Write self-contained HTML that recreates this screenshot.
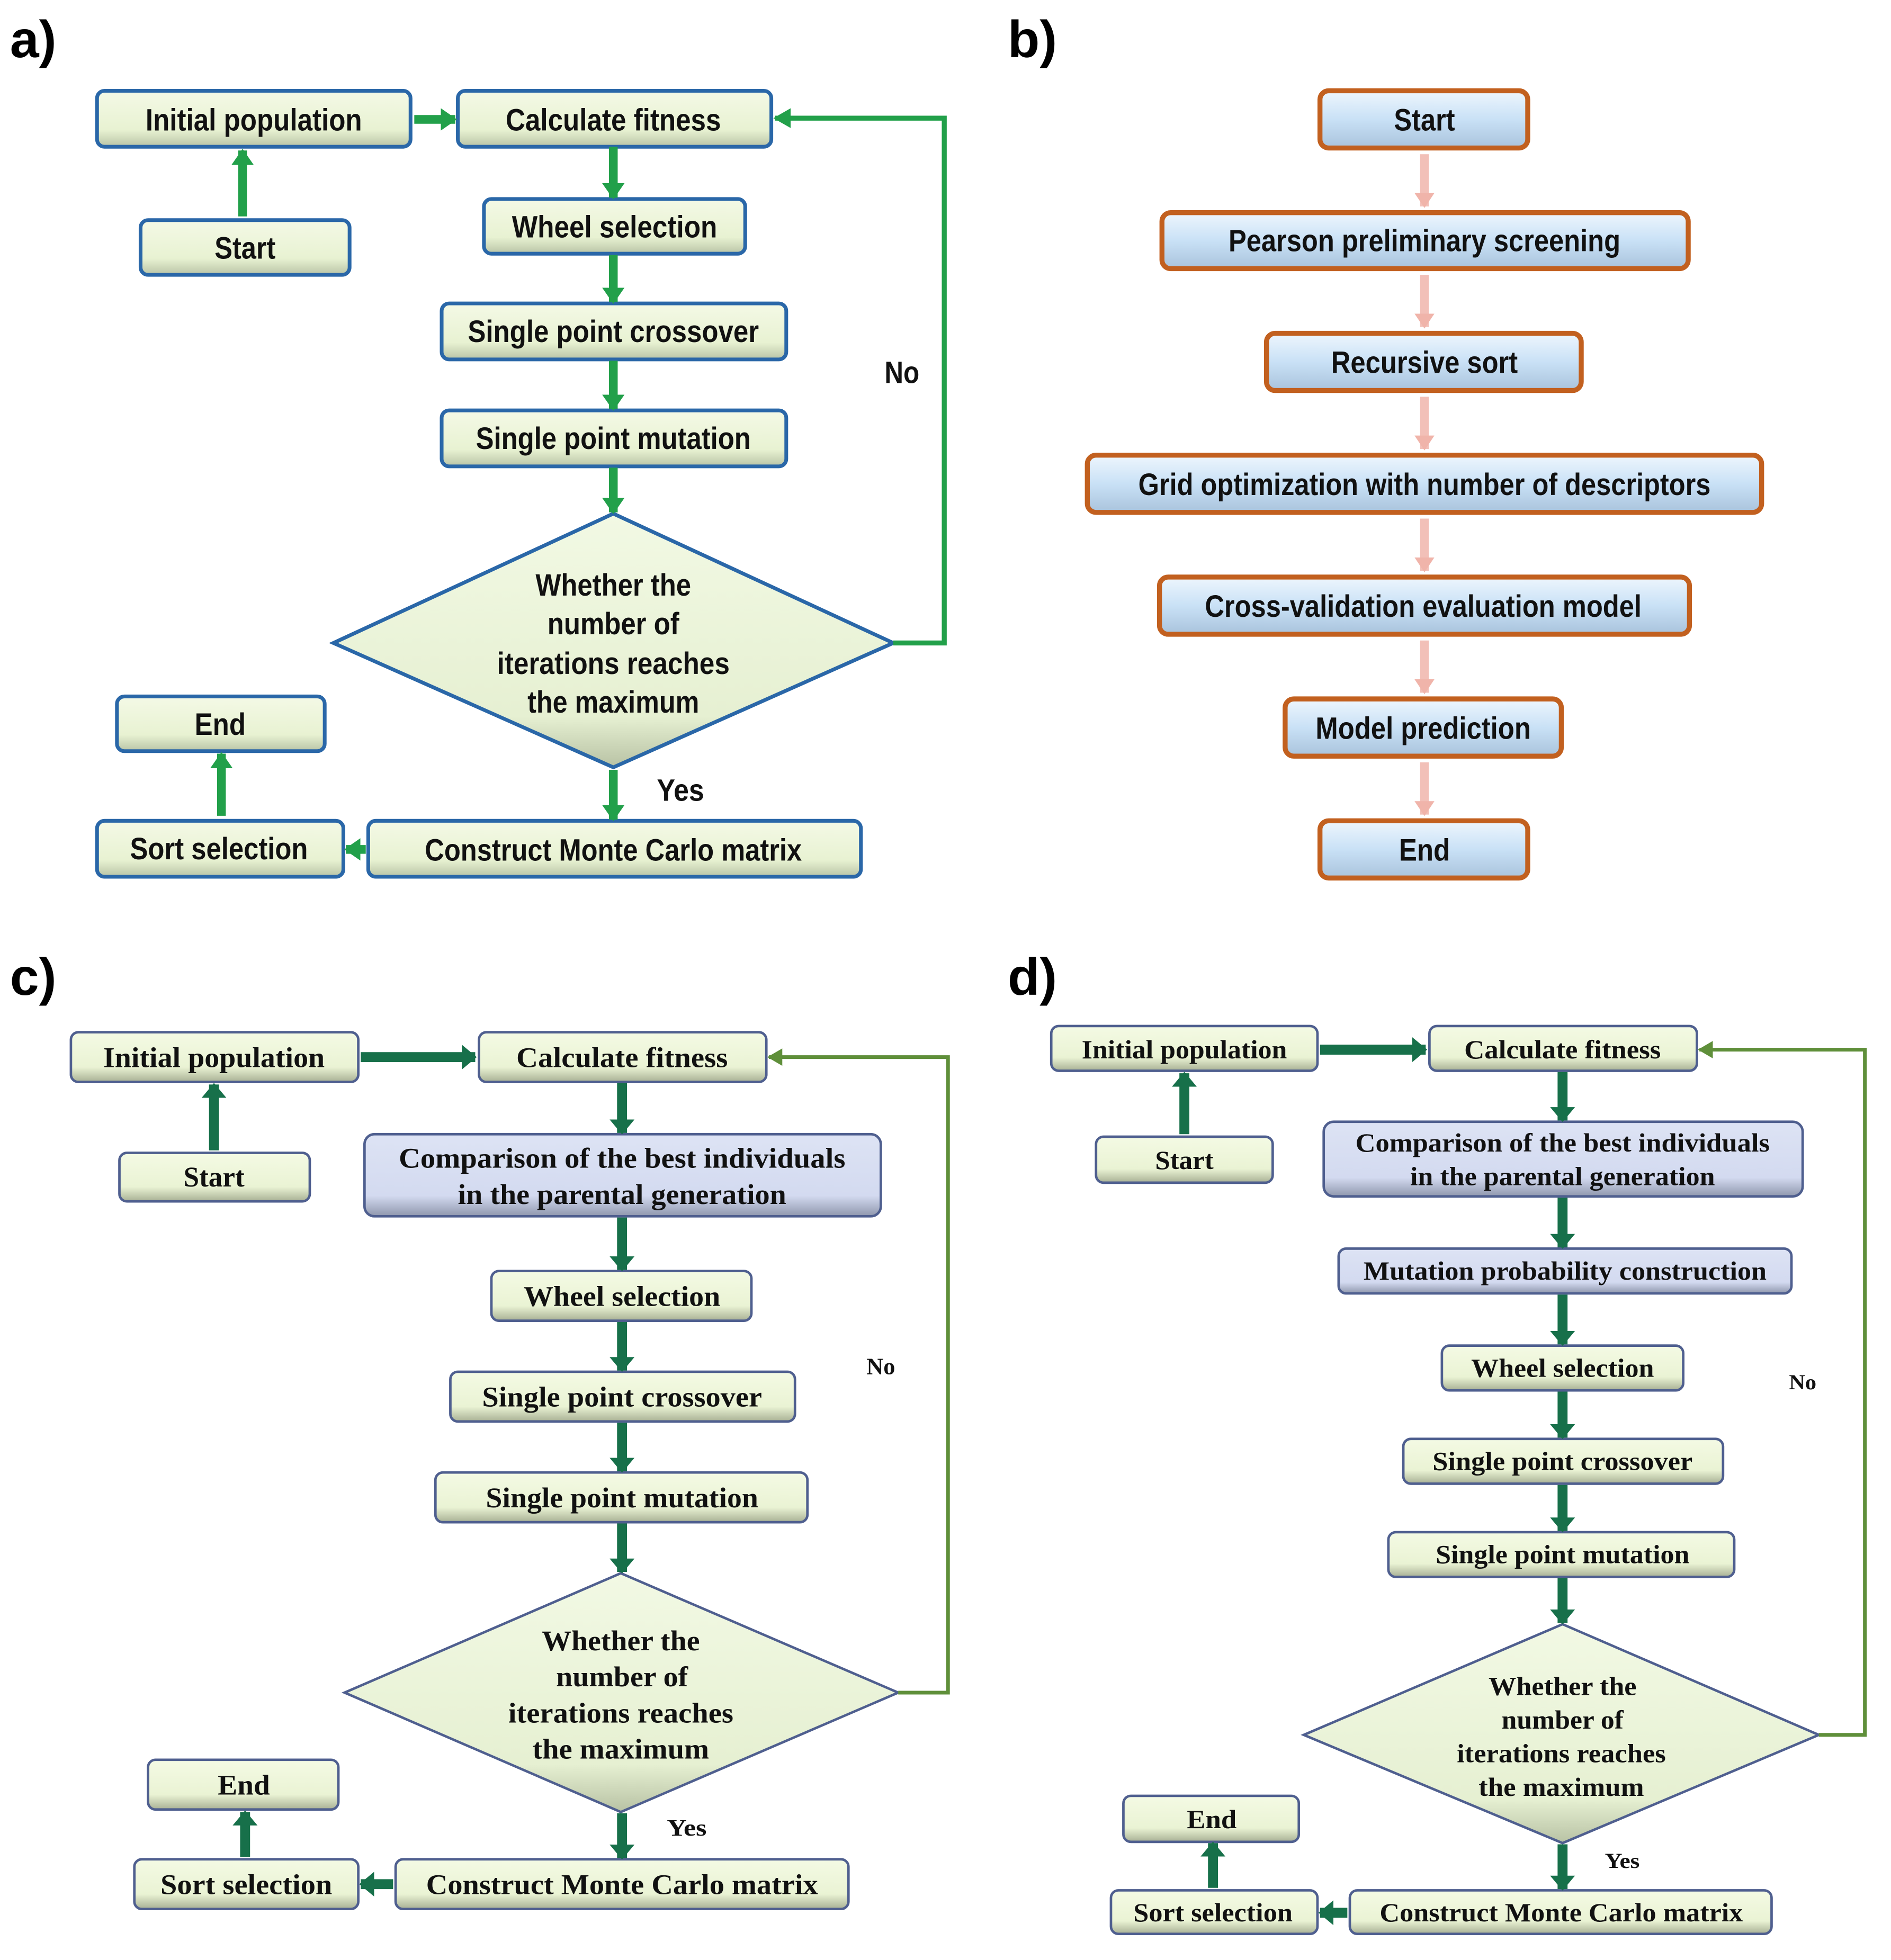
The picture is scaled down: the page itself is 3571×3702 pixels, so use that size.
<!DOCTYPE html>
<html><head><meta charset="utf-8"><style>
html,body{margin:0;padding:0;background:#fff;}
svg{display:block;}
.sa{font-family:"Liberation Sans Narrow","Liberation Sans",sans-serif;font-weight:bold;font-size:25px;fill:#111;text-anchor:middle;}
.sc{font-family:"Liberation Serif",serif;font-weight:bold;font-size:23px;fill:#111;text-anchor:middle;}
.sd{font-family:"Liberation Serif",serif;font-weight:bold;font-size:21px;fill:#111;text-anchor:middle;}
.lab{font-family:"Liberation Sans",sans-serif;font-weight:bold;font-size:42px;fill:#000;}
.ba{fill:url(#gg);stroke:#2a67a8;stroke-width:3;}
.bc{fill:url(#gg2);stroke:#4f5f8f;stroke-width:2;}
.bb{fill:url(#gb2);stroke:#4f5f8f;stroke-width:2;}
.bo{fill:url(#gb);stroke:#c2601f;stroke-width:4;}
.ga{stroke:#22a04a;stroke-width:7;fill:none;}
.gc{stroke:#17704a;stroke-width:8;fill:none;}
.pk{stroke:#f2c0b8;stroke-width:7;fill:none;}
</style></head><body>
<svg width="3571" height="3702" viewBox="0 0 1520 1576" preserveAspectRatio="none" xmlns="http://www.w3.org/2000/svg">
<defs>
<linearGradient id="gg" x1="0" y1="0" x2="0" y2="1"><stop offset="0" stop-color="#f4f9e6"/><stop offset="0.7" stop-color="#e8f2d2"/><stop offset="1" stop-color="#b9c4a6"/></linearGradient>
<linearGradient id="gg2" x1="0" y1="0" x2="0" y2="1"><stop offset="0" stop-color="#f4fae4"/><stop offset="0.7" stop-color="#eaf3d4"/><stop offset="1" stop-color="#a8b094"/></linearGradient>
<linearGradient id="gb2" x1="0" y1="0" x2="0" y2="1"><stop offset="0" stop-color="#dde3f4"/><stop offset="0.75" stop-color="#d3daf0"/><stop offset="1" stop-color="#8f97ad"/></linearGradient>
<linearGradient id="gb" x1="0" y1="0" x2="0" y2="1"><stop offset="0" stop-color="#eef6fd"/><stop offset="0.5" stop-color="#c9e1f6"/><stop offset="1" stop-color="#a9c3dc"/></linearGradient>
<linearGradient id="gd" x1="0" y1="0" x2="0" y2="1"><stop offset="0" stop-color="#f2f9e4"/><stop offset="0.8" stop-color="#e6f0d2"/><stop offset="1" stop-color="#b8c2a4"/></linearGradient>
<marker id="ma" markerUnits="userSpaceOnUse" viewBox="0 0 10 10" preserveAspectRatio="none" markerWidth="13" markerHeight="18" refX="9" refY="5" orient="auto"><path d="M0,0L10,5L0,10z" fill="#22a04a"/></marker>
<marker id="mc" markerUnits="userSpaceOnUse" viewBox="0 0 10 10" preserveAspectRatio="none" markerWidth="12" markerHeight="20" refX="9" refY="5" orient="auto"><path d="M0,0L10,5L0,10z" fill="#17704a"/></marker>
<marker id="mp" markerUnits="userSpaceOnUse" viewBox="0 0 10 10" preserveAspectRatio="none" markerWidth="12" markerHeight="16" refX="9" refY="5" orient="auto"><path d="M0,0L10,5L0,10z" fill="#f0b4aa"/></marker>
<marker id="ml" markerUnits="userSpaceOnUse" viewBox="0 0 10 10" preserveAspectRatio="none" markerWidth="14" markerHeight="16" refX="9" refY="5" orient="auto"><path d="M0,0L10,5L0,10z" fill="#22a04a"/></marker>
<marker id="mo" markerUnits="userSpaceOnUse" viewBox="0 0 10 10" preserveAspectRatio="none" markerWidth="12" markerHeight="14" refX="9" refY="5" orient="auto"><path d="M0,0L10,5L0,10z" fill="#5f8f3a"/></marker>
</defs>

<!-- ===== Panel a ===== -->
<text class="lab" x="8" y="46">a)</text>
<rect class="ba" x="78" y="73" width="252" height="45" rx="6"/>
<text class="sa" x="204" y="105" textLength="174" lengthAdjust="spacingAndGlyphs">Initial population</text>
<rect class="ba" x="368" y="73" width="252" height="45" rx="6"/>
<text class="sa" x="493" y="105" textLength="173" lengthAdjust="spacingAndGlyphs">Calculate fitness</text>
<rect class="ba" x="113" y="177" width="168" height="44" rx="6"/>
<text class="sa" x="197" y="208" textLength="49" lengthAdjust="spacingAndGlyphs">Start</text>
<rect class="ba" x="389" y="160" width="210" height="44" rx="6"/>
<text class="sa" x="494" y="191" textLength="165" lengthAdjust="spacingAndGlyphs">Wheel selection</text>
<rect class="ba" x="355" y="244" width="277" height="45" rx="6"/>
<text class="sa" x="493" y="275" textLength="234" lengthAdjust="spacingAndGlyphs">Single point crossover</text>
<rect class="ba" x="355" y="330" width="277" height="45" rx="6"/>
<text class="sa" x="493" y="361" textLength="221" lengthAdjust="spacingAndGlyphs">Single point mutation</text>
<polygon points="268,517 493,413 718,517 493,617" fill="url(#gd)" stroke="#2a67a8" stroke-width="3"/>
<text class="sa" x="493" y="479" textLength="125" lengthAdjust="spacingAndGlyphs">Whether the</text>
<text class="sa" x="493" y="510" textLength="106" lengthAdjust="spacingAndGlyphs">number of</text>
<text class="sa" x="493" y="542" textLength="187" lengthAdjust="spacingAndGlyphs">iterations reaches</text>
<text class="sa" x="493" y="573" textLength="138" lengthAdjust="spacingAndGlyphs">the maximum</text>
<rect class="ba" x="94" y="560" width="167" height="44" rx="6"/>
<text class="sa" x="177" y="591" textLength="41" lengthAdjust="spacingAndGlyphs">End</text>
<rect class="ba" x="78" y="660" width="198" height="45" rx="6"/>
<text class="sa" x="176" y="691" textLength="143" lengthAdjust="spacingAndGlyphs">Sort selection</text>
<rect class="ba" x="296" y="660" width="396" height="45" rx="6"/>
<text class="sa" x="493" y="692" textLength="303" lengthAdjust="spacingAndGlyphs">Construct Monte Carlo matrix</text>
<text class="sa" x="725" y="308" textLength="28" lengthAdjust="spacingAndGlyphs">No</text>
<text class="sa" x="547" y="644" textLength="38" lengthAdjust="spacingAndGlyphs">Yes</text>
<line class="ga" x1="195" y1="174" x2="195" y2="121" marker-end="url(#ma)"/>
<line class="ga" x1="333" y1="96" x2="366" y2="96" marker-end="url(#ma)"/>
<line class="ga" x1="493" y1="118" x2="493" y2="159" marker-end="url(#ma)"/>
<line class="ga" x1="493" y1="205" x2="493" y2="243" marker-end="url(#ma)"/>
<line class="ga" x1="493" y1="290" x2="493" y2="329" marker-end="url(#ma)"/>
<line class="ga" x1="493" y1="376" x2="493" y2="412" marker-end="url(#ma)"/>
<line class="ga" x1="493" y1="619" x2="493" y2="659" marker-end="url(#ma)"/>
<line class="ga" x1="294" y1="683" x2="278" y2="683" marker-end="url(#ma)"/>
<line class="ga" x1="178" y1="656" x2="178" y2="606" marker-end="url(#ma)"/>
<polyline points="718,517 759,517 759,95 623,95" fill="none" stroke="#22a04a" stroke-width="4" marker-end="url(#ml)"/>

<!-- ===== Panel b ===== -->
<text class="lab" x="810" y="46">b)</text>
<rect class="bo" x="1061" y="73" width="167" height="46" rx="7"/>
<text class="sa" x="1145" y="105" textLength="49" lengthAdjust="spacingAndGlyphs">Start</text>
<rect class="bo" x="934" y="171" width="423" height="45" rx="7"/>
<text class="sa" x="1145" y="202" textLength="315" lengthAdjust="spacingAndGlyphs">Pearson preliminary screening</text>
<rect class="bo" x="1018" y="268" width="253" height="46" rx="7"/>
<text class="sa" x="1145" y="300" textLength="150" lengthAdjust="spacingAndGlyphs">Recursive sort</text>
<rect class="bo" x="874" y="366" width="542" height="46" rx="7"/>
<text class="sa" x="1145" y="398" textLength="460" lengthAdjust="spacingAndGlyphs">Grid optimization with number of descriptors</text>
<rect class="bo" x="932" y="464" width="426" height="46" rx="7"/>
<text class="sa" x="1144" y="496" textLength="351" lengthAdjust="spacingAndGlyphs">Cross-validation evaluation model</text>
<rect class="bo" x="1033" y="562" width="222" height="46" rx="7"/>
<text class="sa" x="1144" y="594" textLength="173" lengthAdjust="spacingAndGlyphs">Model prediction</text>
<rect class="bo" x="1061" y="660" width="167" height="46" rx="7"/>
<text class="sa" x="1145" y="692" textLength="41" lengthAdjust="spacingAndGlyphs">End</text>
<line class="pk" x1="1145" y1="124" x2="1145" y2="166" marker-end="url(#mp)"/>
<line class="pk" x1="1145" y1="221" x2="1145" y2="263" marker-end="url(#mp)"/>
<line class="pk" x1="1145" y1="319" x2="1145" y2="361" marker-end="url(#mp)"/>
<line class="pk" x1="1145" y1="417" x2="1145" y2="459" marker-end="url(#mp)"/>
<line class="pk" x1="1145" y1="515" x2="1145" y2="557" marker-end="url(#mp)"/>
<line class="pk" x1="1145" y1="613" x2="1145" y2="655" marker-end="url(#mp)"/>

<!-- ===== Panel c ===== -->
<text class="lab" x="8" y="800">c)</text>
<rect class="bc" x="57" y="830" width="231" height="40" rx="6"/>
<text class="sc" x="172" y="858" textLength="178" lengthAdjust="spacingAndGlyphs">Initial population</text>
<rect class="bc" x="385" y="830" width="231" height="40" rx="6"/>
<text class="sc" x="500" y="858" textLength="170" lengthAdjust="spacingAndGlyphs">Calculate fitness</text>
<rect class="bc" x="96" y="927" width="153" height="39" rx="6"/>
<text class="sc" x="172" y="954" textLength="49" lengthAdjust="spacingAndGlyphs">Start</text>
<rect class="bb" x="293" y="912" width="415" height="66" rx="8"/>
<text class="sc" x="500" y="939" textLength="359" lengthAdjust="spacingAndGlyphs">Comparison of the best individuals</text>
<text class="sc" x="500" y="968" textLength="264" lengthAdjust="spacingAndGlyphs">in the parental generation</text>
<rect class="bc" x="395" y="1022" width="209" height="40" rx="6"/>
<text class="sc" x="500" y="1050" textLength="158" lengthAdjust="spacingAndGlyphs">Wheel selection</text>
<rect class="bc" x="362" y="1103" width="277" height="40" rx="6"/>
<text class="sc" x="500" y="1131" textLength="225" lengthAdjust="spacingAndGlyphs">Single point crossover</text>
<rect class="bc" x="350" y="1184" width="299" height="40" rx="6"/>
<text class="sc" x="500" y="1212" textLength="219" lengthAdjust="spacingAndGlyphs">Single point mutation</text>
<polygon points="277,1361 499,1265 722,1361 499,1457" fill="url(#gd)" stroke="#4f5f8f" stroke-width="2"/>
<text class="sc" x="499" y="1327" textLength="127" lengthAdjust="spacingAndGlyphs">Whether the</text>
<text class="sc" x="500" y="1356" textLength="106" lengthAdjust="spacingAndGlyphs">number of</text>
<text class="sc" x="499" y="1385" textLength="181" lengthAdjust="spacingAndGlyphs">iterations reaches</text>
<text class="sc" x="499" y="1414" textLength="142" lengthAdjust="spacingAndGlyphs">the maximum</text>
<rect class="bc" x="119" y="1415" width="153" height="40" rx="6"/>
<text class="sc" x="196" y="1443" textLength="42" lengthAdjust="spacingAndGlyphs">End</text>
<rect class="bc" x="108" y="1495" width="180" height="40" rx="6"/>
<text class="sc" x="198" y="1523" textLength="138" lengthAdjust="spacingAndGlyphs">Sort selection</text>
<rect class="bc" x="318" y="1495" width="364" height="40" rx="6"/>
<text class="sc" x="500" y="1523" textLength="315" lengthAdjust="spacingAndGlyphs">Construct Monte Carlo matrix</text>
<text class="sc" x="708" y="1105" style="font-size:19px" textLength="23" lengthAdjust="spacingAndGlyphs">No</text>
<text class="sc" x="552" y="1476" style="font-size:19px" textLength="32" lengthAdjust="spacingAndGlyphs">Yes</text>
<line class="gc" x1="172" y1="925" x2="172" y2="872" marker-end="url(#mc)"/>
<line class="gc" x1="290" y1="850" x2="382" y2="850" marker-end="url(#mc)"/>
<line class="gc" x1="500" y1="871" x2="500" y2="911" marker-end="url(#mc)"/>
<line class="gc" x1="500" y1="979" x2="500" y2="1021" marker-end="url(#mc)"/>
<line class="gc" x1="500" y1="1063" x2="500" y2="1102" marker-end="url(#mc)"/>
<line class="gc" x1="500" y1="1144" x2="500" y2="1183" marker-end="url(#mc)"/>
<line class="gc" x1="500" y1="1225" x2="500" y2="1264" marker-end="url(#mc)"/>
<line class="gc" x1="500" y1="1458" x2="500" y2="1494" marker-end="url(#mc)"/>
<line class="gc" x1="316" y1="1515" x2="290" y2="1515" marker-end="url(#mc)"/>
<line class="gc" x1="197" y1="1493" x2="197" y2="1457" marker-end="url(#mc)"/>
<polyline points="722,1361 762,1361 762,850 618,850" fill="none" stroke="#5f8f3a" stroke-width="3" marker-end="url(#mo)"/>

<!-- ===== Panel d ===== -->
<text class="lab" x="810" y="800">d)</text>
<rect class="bc" x="845" y="825" width="214" height="36" rx="6"/>
<text class="sd" x="952" y="851" textLength="165" lengthAdjust="spacingAndGlyphs">Initial population</text>
<rect class="bc" x="1149" y="825" width="215" height="36" rx="6"/>
<text class="sd" x="1256" y="851" textLength="158" lengthAdjust="spacingAndGlyphs">Calculate fitness</text>
<rect class="bc" x="881" y="914" width="142" height="37" rx="6"/>
<text class="sd" x="952" y="940" textLength="47" lengthAdjust="spacingAndGlyphs">Start</text>
<rect class="bb" x="1064" y="902" width="385" height="60" rx="8"/>
<text class="sd" x="1256" y="926" textLength="333" lengthAdjust="spacingAndGlyphs">Comparison of the best individuals</text>
<text class="sd" x="1256" y="953" textLength="245" lengthAdjust="spacingAndGlyphs">in the parental generation</text>
<rect class="bb" x="1076" y="1004" width="364" height="36" rx="6"/>
<text class="sd" x="1258" y="1029" textLength="324" lengthAdjust="spacingAndGlyphs">Mutation probability construction</text>
<rect class="bc" x="1159" y="1082" width="194" height="36" rx="6"/>
<text class="sd" x="1256" y="1107" textLength="147" lengthAdjust="spacingAndGlyphs">Wheel selection</text>
<rect class="bc" x="1128" y="1157" width="257" height="36" rx="6"/>
<text class="sd" x="1256" y="1182" textLength="209" lengthAdjust="spacingAndGlyphs">Single point crossover</text>
<rect class="bc" x="1116" y="1232" width="278" height="36" rx="6"/>
<text class="sd" x="1256" y="1257" textLength="204" lengthAdjust="spacingAndGlyphs">Single point mutation</text>
<polygon points="1048,1395 1256,1306 1462,1395 1256,1482" fill="url(#gd)" stroke="#4f5f8f" stroke-width="2"/>
<text class="sd" x="1256" y="1363" textLength="119" lengthAdjust="spacingAndGlyphs">Whether the</text>
<text class="sd" x="1256" y="1390" textLength="98" lengthAdjust="spacingAndGlyphs">number of</text>
<text class="sd" x="1255" y="1417" textLength="168" lengthAdjust="spacingAndGlyphs">iterations reaches</text>
<text class="sd" x="1255" y="1444" textLength="133" lengthAdjust="spacingAndGlyphs">the maximum</text>
<rect class="bc" x="903" y="1444" width="141" height="37" rx="6"/>
<text class="sd" x="974" y="1470" textLength="40" lengthAdjust="spacingAndGlyphs">End</text>
<rect class="bc" x="893" y="1520" width="166" height="35" rx="6"/>
<text class="sd" x="975" y="1545" textLength="128" lengthAdjust="spacingAndGlyphs">Sort selection</text>
<rect class="bc" x="1085" y="1520" width="339" height="35" rx="6"/>
<text class="sd" x="1255" y="1545" textLength="292" lengthAdjust="spacingAndGlyphs">Construct Monte Carlo matrix</text>
<text class="sd" x="1449" y="1117" style="font-size:17px" textLength="22" lengthAdjust="spacingAndGlyphs">No</text>
<text class="sd" x="1304" y="1502" style="font-size:17px" textLength="28" lengthAdjust="spacingAndGlyphs">Yes</text>
<line class="gc" x1="952" y1="912" x2="952" y2="863" marker-end="url(#mc)"/>
<line class="gc" x1="1061" y1="844" x2="1146" y2="844" marker-end="url(#mc)"/>
<line class="gc" x1="1256" y1="862" x2="1256" y2="901" marker-end="url(#mc)"/>
<line class="gc" x1="1256" y1="963" x2="1256" y2="1003" marker-end="url(#mc)"/>
<line class="gc" x1="1256" y1="1041" x2="1256" y2="1081" marker-end="url(#mc)"/>
<line class="gc" x1="1256" y1="1119" x2="1256" y2="1156" marker-end="url(#mc)"/>
<line class="gc" x1="1256" y1="1194" x2="1256" y2="1231" marker-end="url(#mc)"/>
<line class="gc" x1="1256" y1="1269" x2="1256" y2="1305" marker-end="url(#mc)"/>
<line class="gc" x1="1256" y1="1483" x2="1256" y2="1519" marker-end="url(#mc)"/>
<line class="gc" x1="1083" y1="1538" x2="1061" y2="1538" marker-end="url(#mc)"/>
<line class="gc" x1="975" y1="1518" x2="975" y2="1482" marker-end="url(#mc)"/>
<polyline points="1462,1395 1499,1395 1499,844 1366,844" fill="none" stroke="#5f8f3a" stroke-width="3" marker-end="url(#mo)"/>
</svg>
</body></html>
